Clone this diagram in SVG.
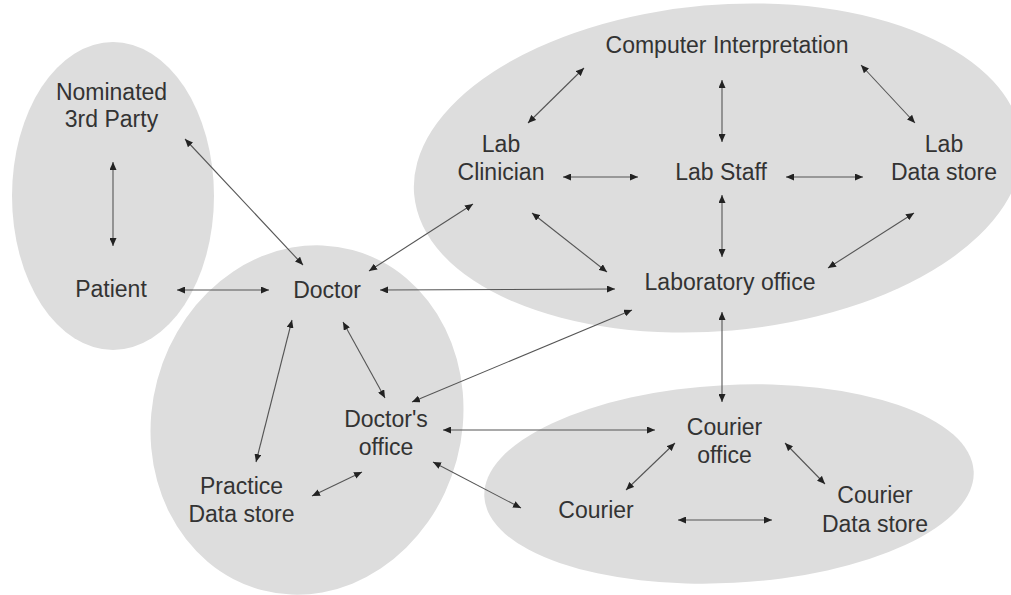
<svg xmlns="http://www.w3.org/2000/svg" width="1011" height="595" viewBox="0 0 1011 595">
<style>
.grp{fill:#dddddd;stroke:none}
.lbl{font-family:"Liberation Sans",Arial,sans-serif;font-size:23px;fill:#333333;text-anchor:middle}
.c{stroke:#555555;stroke-width:1.1;fill:none;marker-start:url(#ah);marker-end:url(#ah)}
</style>
<defs>
<marker id="ah" viewBox="0 0 8 7" markerWidth="8" markerHeight="7" refX="8" refY="3.5" orient="auto-start-reverse" markerUnits="userSpaceOnUse">
<path d="M0,0 L8,3.5 L0,7 z" fill="#222222"/>
</marker>
</defs>
<rect width="1011" height="595" fill="#ffffff"/>
<g id="regions">
<ellipse class="grp" cx="113" cy="196" rx="101" ry="154"/>
<ellipse class="grp" cx="307" cy="420" rx="155" ry="176" transform="rotate(15 307 420)"/>
<ellipse class="grp" cx="718" cy="168" rx="305" ry="163" transform="rotate(-5 718 168)"/>
<ellipse class="grp" cx="729" cy="484" rx="245" ry="99" transform="rotate(-3 729 484)"/>
</g>
<g id="connectors">
<line class="c" x1="113" y1="162" x2="113" y2="246"/>
<line class="c" x1="185" y1="139" x2="303" y2="265"/>
<line class="c" x1="177" y1="290" x2="269" y2="290"/>
<line class="c" x1="369" y1="271" x2="473" y2="204"/>
<line class="c" x1="380" y1="290" x2="615" y2="289"/>
<line class="c" x1="584" y1="68" x2="528" y2="123"/>
<line class="c" x1="722" y1="80" x2="722" y2="142"/>
<line class="c" x1="861" y1="65" x2="915" y2="123"/>
<line class="c" x1="563" y1="177" x2="638" y2="177"/>
<line class="c" x1="786" y1="177" x2="863" y2="177"/>
<line class="c" x1="722" y1="195" x2="722" y2="257"/>
<line class="c" x1="532" y1="213" x2="607" y2="272"/>
<line class="c" x1="914" y1="213" x2="828" y2="268"/>
<line class="c" x1="722" y1="312" x2="722" y2="402"/>
<line class="c" x1="292" y1="320" x2="256" y2="462"/>
<line class="c" x1="343" y1="322" x2="385" y2="398"/>
<line class="c" x1="632" y1="310" x2="412" y2="402"/>
<line class="c" x1="443" y1="430" x2="655" y2="430"/>
<line class="c" x1="312" y1="496" x2="362" y2="472"/>
<line class="c" x1="433" y1="462" x2="521" y2="508"/>
<line class="c" x1="675" y1="443" x2="626" y2="490"/>
<line class="c" x1="785" y1="443" x2="825" y2="484"/>
<line class="c" x1="678" y1="520" x2="772" y2="520"/>
</g>
<g id="nominated"><text class="lbl" x="111.5" y="100">Nominated</text><text class="lbl" x="111.5" y="127">3rd Party</text></g>
<g id="patient"><text class="lbl" x="111" y="297">Patient</text></g>
<g id="doctor"><text class="lbl" x="327" y="298">Doctor</text></g>
<g id="computer"><text class="lbl" x="727" y="53">Computer Interpretation</text></g>
<g id="labclinician"><text class="lbl" x="501" y="152">Lab</text><text class="lbl" x="501" y="180">Clinician</text></g>
<g id="labstaff"><text class="lbl" x="721" y="180">Lab Staff</text></g>
<g id="labdatastore"><text class="lbl" x="944" y="152">Lab</text><text class="lbl" x="944" y="180">Data store</text></g>
<g id="laboffice"><text class="lbl" x="730" y="290">Laboratory office</text></g>
<g id="doctorsoffice"><text class="lbl" x="386" y="427">Doctor's</text><text class="lbl" x="386" y="455">office</text></g>
<g id="practice"><text class="lbl" x="241.5" y="494">Practice</text><text class="lbl" x="241.5" y="522">Data store</text></g>
<g id="courieroffice"><text class="lbl" x="724.5" y="435">Courier</text><text class="lbl" x="724.5" y="463">office</text></g>
<g id="courier"><text class="lbl" x="596" y="518">Courier</text></g>
<g id="courierdata"><text class="lbl" x="875" y="503">Courier</text><text class="lbl" x="875" y="532">Data store</text></g>
</svg>
